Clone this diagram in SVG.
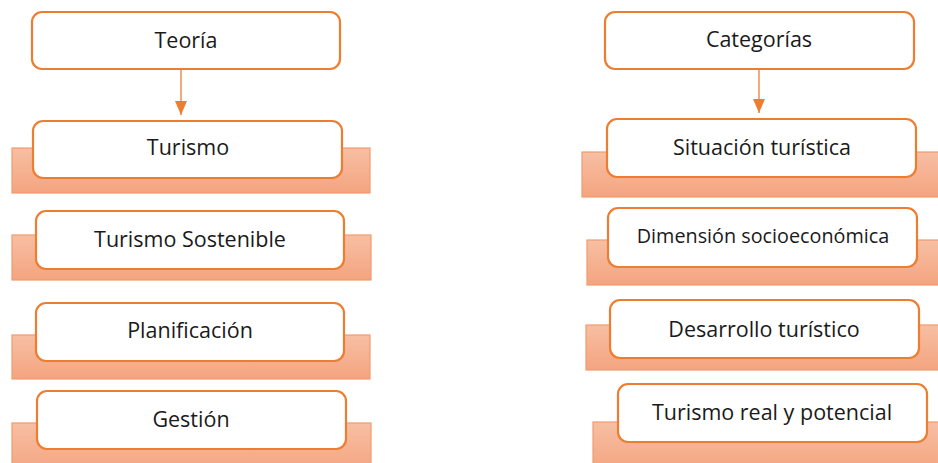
<svg xmlns="http://www.w3.org/2000/svg" width="938" height="463" viewBox="0 0 938 463">
<defs>
<linearGradient id="bandGrad" x1="0" y1="0" x2="0" y2="1">
<stop offset="0" stop-color="#F7BFA3"/>
<stop offset="1" stop-color="#F4A47F"/>
</linearGradient>
<marker id="arrow" viewBox="0 0 14 12" refX="14" refY="6" markerWidth="14" markerHeight="12" markerUnits="userSpaceOnUse" orient="auto">
<path d="M0,0 L14,6 L0,12 Z" fill="#ED7D31"/>
</marker>
</defs>
<style>
.band{fill:url(#bandGrad);stroke:#F19B6F;stroke-width:1.2}
.box{fill:#FFFFFF;stroke:#ED7D31;stroke-width:2.2}
.lbl{font-family:"Open Sans","Liberation Sans",sans-serif;font-size:21.5px;fill:#1a1a1a;text-anchor:middle}
.conn{stroke:#ED7D31;stroke-width:1.3;fill:none}
</style>
<rect width="938" height="463" fill="#FFFFFF"/>

<g id="teoria">
<rect class="box" x="32" y="12" width="308" height="57" rx="10"/>
<text class="lbl" x="186" y="48">Teoría</text>
</g>
<g id="turismo">
<rect class="band" x="12" y="148" width="358" height="45"/>
<rect class="box" x="33" y="121" width="309" height="57" rx="10"/>
<text class="lbl" x="188" y="155">Turismo</text>
</g>
<g id="turismo-sostenible">
<rect class="band" x="12" y="235" width="359" height="45"/>
<rect class="box" x="36" y="211" width="308" height="58" rx="10"/>
<text class="lbl" x="190" y="247">Turismo Sostenible</text>
</g>
<g id="planificacion">
<rect class="band" x="12" y="335" width="358" height="44"/>
<rect class="box" x="36" y="303" width="308" height="58" rx="10"/>
<text class="lbl" x="190" y="338">Planificación</text>
</g>
<g id="gestion">
<rect class="band" x="12" y="423" width="359" height="50"/>
<rect class="box" x="37" y="391" width="309" height="58" rx="10"/>
<text class="lbl" x="191" y="427">Gestión</text>
</g>

<g id="categorias">
<rect class="box" x="605" y="12" width="309" height="57" rx="10"/>
<text class="lbl" x="759" y="47">Categorías</text>
</g>
<g id="situacion-turistica">
<rect class="band" x="582" y="152" width="370" height="45"/>
<rect class="box" x="607" y="119" width="309" height="58" rx="10"/>
<text class="lbl" x="762" y="155">Situación turística</text>
</g>
<g id="dimension-socioeconomica">
<rect class="band" x="587" y="240" width="365" height="45"/>
<rect class="box" x="608" y="208" width="309" height="59" rx="10"/>
<text class="lbl" x="763" y="243" style="font-size:19.8px">Dimensión socioeconómica</text>
</g>
<g id="desarrollo-turistico">
<rect class="band" x="586" y="325" width="366" height="45"/>
<rect class="box" x="610" y="300" width="309" height="58" rx="10"/>
<text class="lbl" x="764" y="337">Desarrollo turístico</text>
</g>
<g id="turismo-real-potencial">
<rect class="band" x="593" y="422" width="359" height="50"/>
<rect class="box" x="618" y="384" width="309" height="58" rx="10"/>
<text class="lbl" x="772" y="420">Turismo real y potencial</text>
</g>

<g id="connectors">
<line class="conn" x1="181" y1="70" x2="181" y2="115" marker-end="url(#arrow)"/>
<line class="conn" x1="759" y1="70" x2="759" y2="113" marker-end="url(#arrow)"/>
</g>
</svg>
